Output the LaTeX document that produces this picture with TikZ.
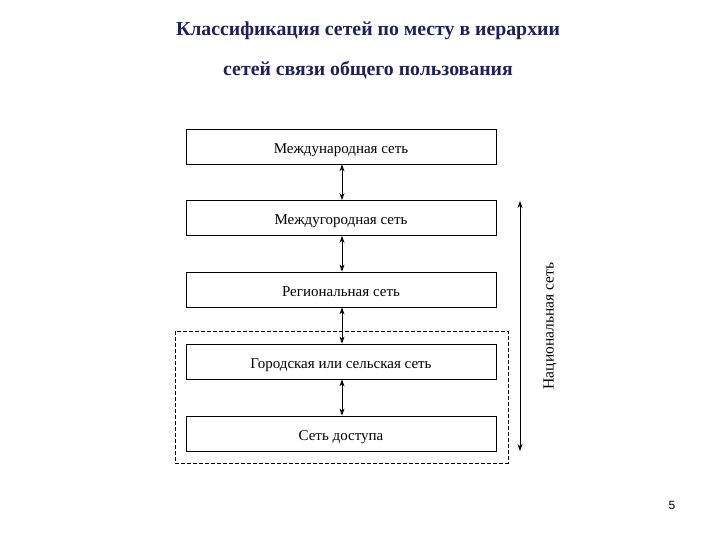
\documentclass[tikz,border=0pt]{standalone}
\usepackage{fontspec}
\setmainfont{Liberation Serif}
\newfontfamily\numfont{Liberation Sans}
\usetikzlibrary{arrows.meta}
\definecolor{titleblue}{HTML}{1F1F5C}
\begin{document}
\begin{tikzpicture}[x=1pt,y=-1pt,
  netbox/.style={draw=black,line width=0.8pt,minimum width=310pt,minimum height=35pt,inner sep=0pt,text height=14pt,text depth=0pt,font=\fontsize{15}{17}\selectfont},
  link/.style={line width=0.8pt,{Stealth[length=7pt,width=5pt]}-{Stealth[length=7pt,width=5pt]}},
  ttl/.style={font=\fontsize{19.8}{22}\selectfont\bfseries,text=titleblue}]
\useasboundingbox (0,0) rectangle (720,540);
\node[ttl] (t1) at (368,31) {Классификация сетей по месту в иерархии};
\node[ttl] (t2) at (368,70) {сетей связи общего пользования};
\node[netbox] (b1) at (341,146.5) {Международная сеть};
\node[netbox] (b2) at (341,218) {Междугородная сеть};
\node[netbox] (b3) at (341,289.5) {Региональная сеть};
\node[netbox] (b4) at (341,361.5) {Городская или сельская сеть};
\node[netbox] (b5) at (341,433.5) {Сеть доступа};
\draw[link] ([xshift=1pt]b1.south) -- ([xshift=1pt]b2.north);
\draw[link] ([xshift=1pt]b2.south) -- ([xshift=1pt]b3.north);
\draw[link] ([xshift=1pt]b3.south) -- ([xshift=1pt]b4.north);
\draw[link] ([xshift=1pt]b4.south) -- ([xshift=1pt]b5.north);
\coordinate (dtl) at (175,331);
\coordinate (dbr) at (508,463);
\draw[line width=0.8pt,dash pattern=on 4pt off 2pt] (dtl) rectangle (dbr);
\coordinate (ntop) at (520,201);
\coordinate (nbot) at (520,451);
\draw[link] (ntop) -- (nbot);
\node[rotate=90,font=\fontsize{15.5}{17}\selectfont] (nat) at (550,326) {Национальная сеть};
\node[font=\numfont\fontsize{12}{14}\selectfont] (pg) at (672,505) {5};
\end{tikzpicture}
\end{document}
